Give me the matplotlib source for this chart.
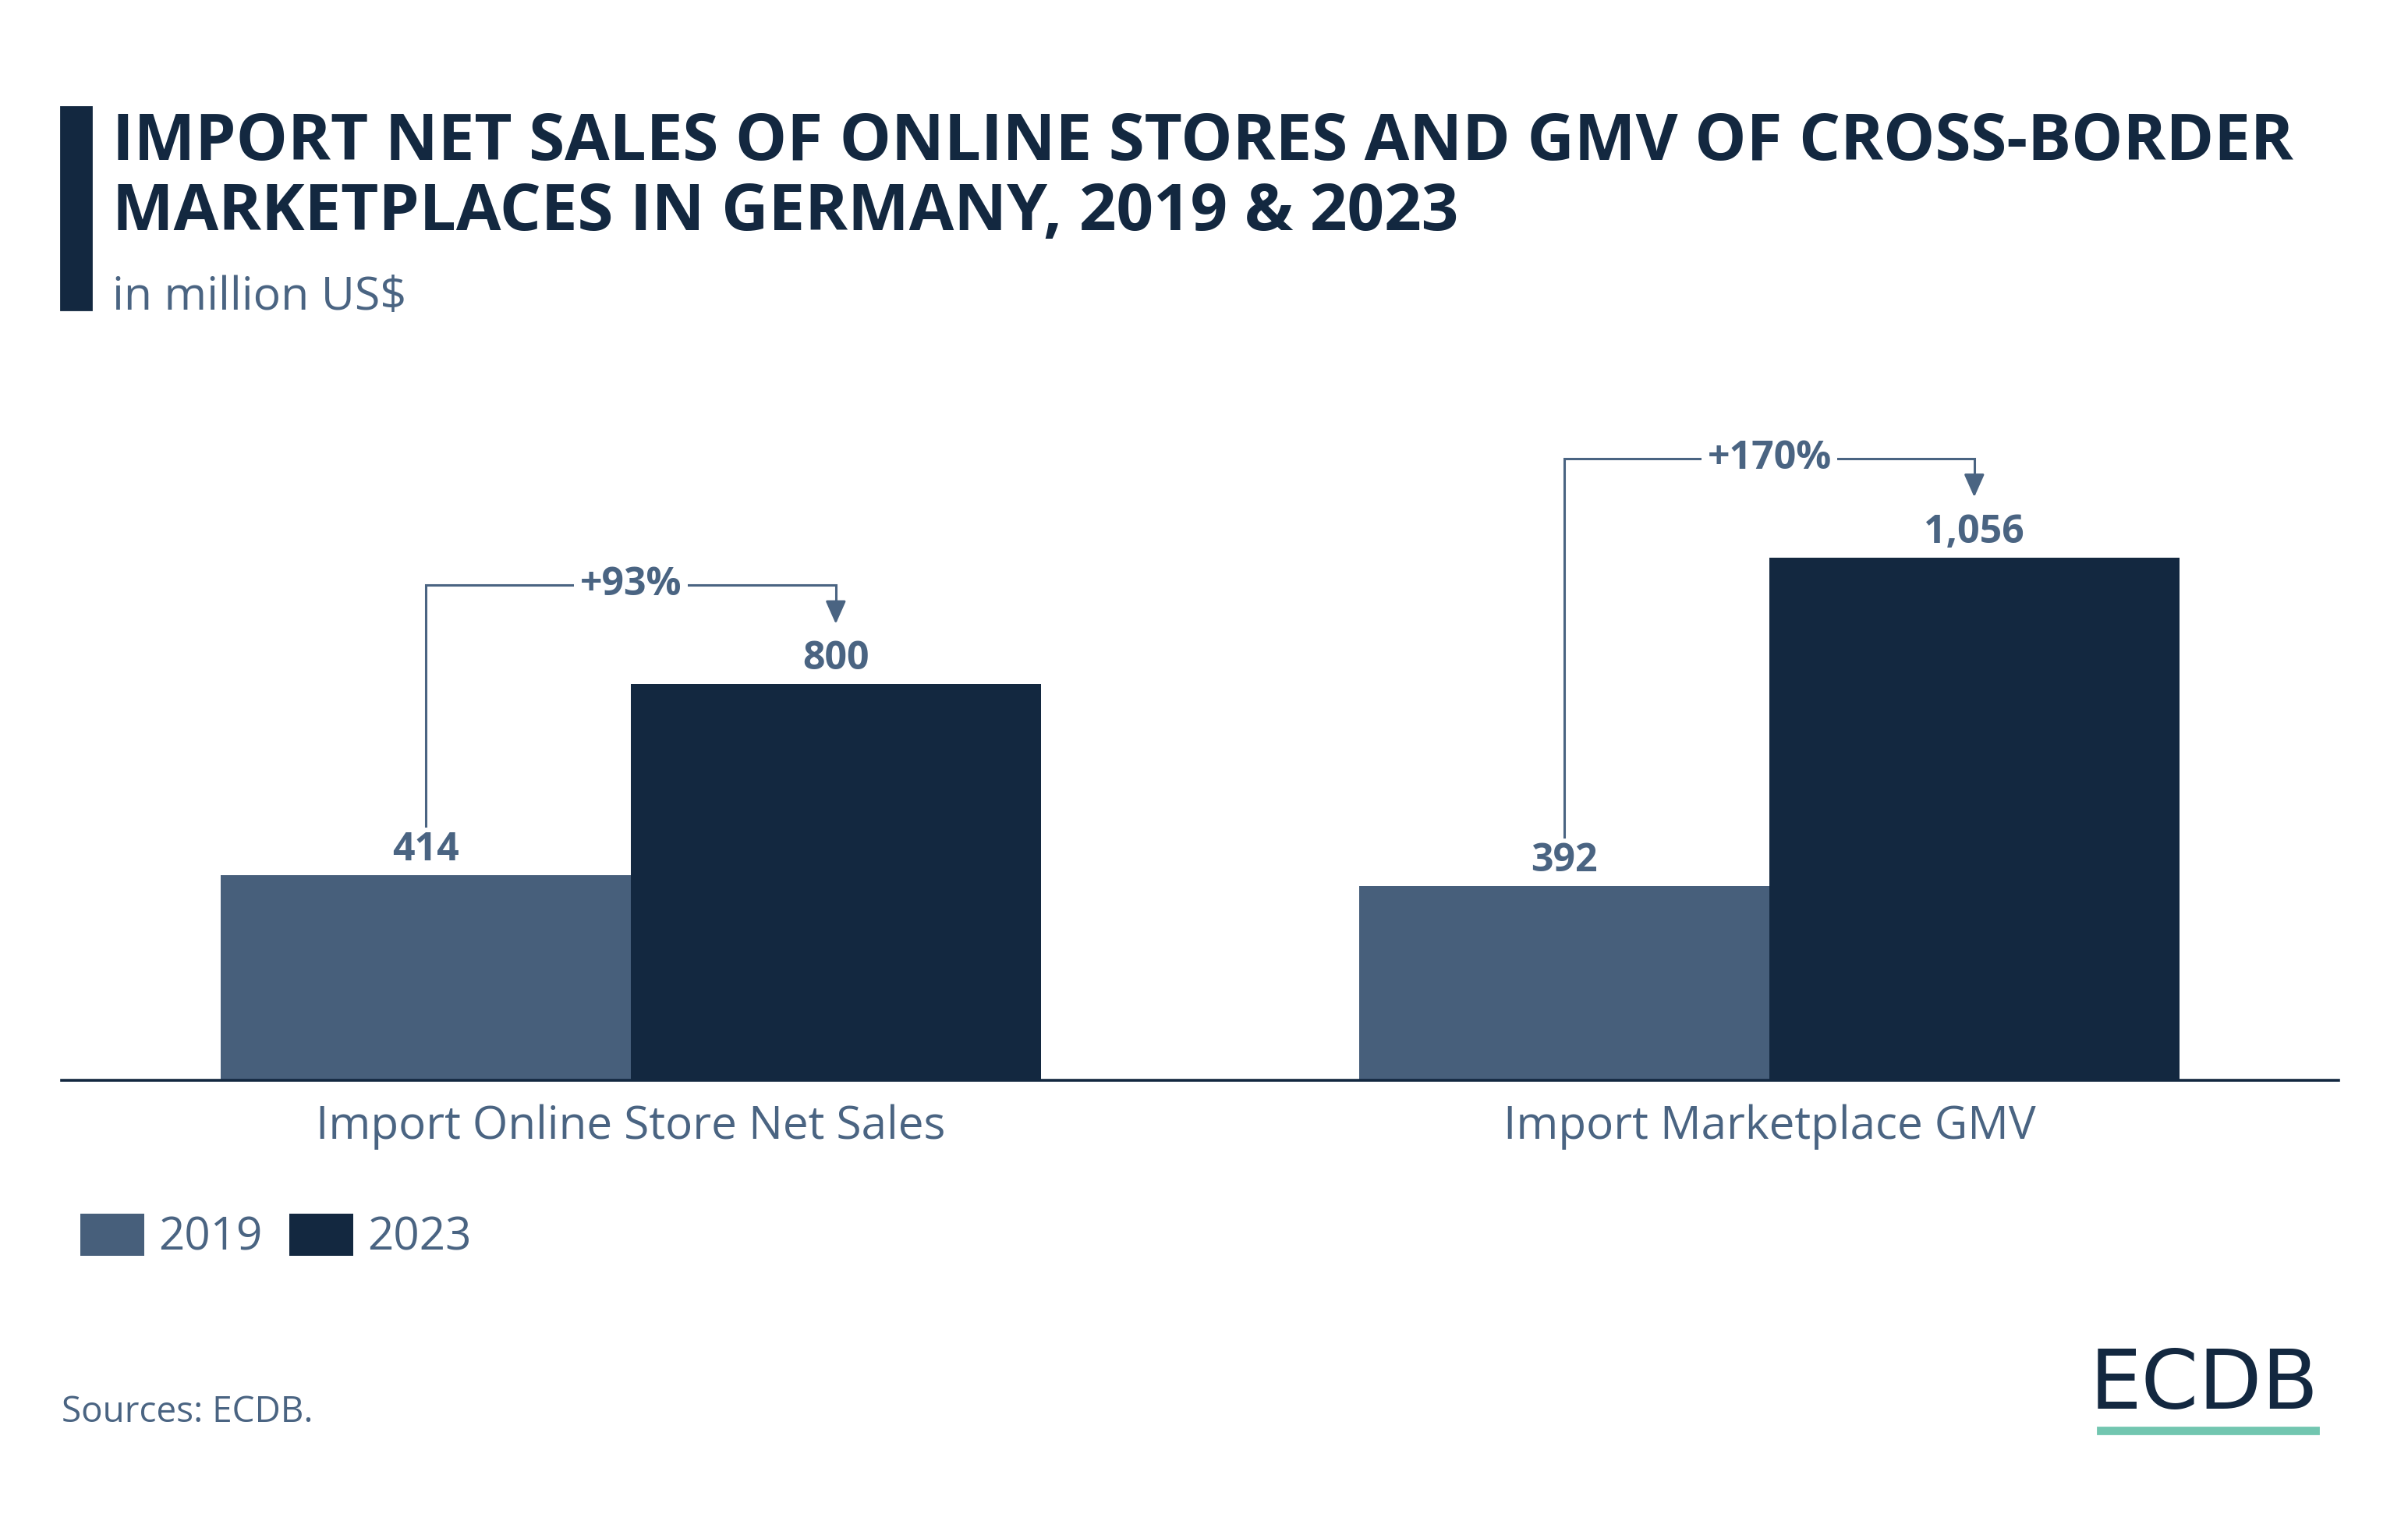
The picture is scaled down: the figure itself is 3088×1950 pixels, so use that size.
import matplotlib.pyplot as plt
from matplotlib.patches import Rectangle
import numpy as np

plt.rcParams['font.family'] = ['Open Sans', 'DejaVu Sans']

categories = ['Import Online Store Net Sales', 'Import Marketplace GMV']
years = ['2019', '2023']
values_2019 = [414, 392]
values_2023 = [800, 1056]
growth_labels = ['+93%', '+170%']

c2019 = '#475f7b'
c2023 = '#132840'
txt = '#4a6482'

fig = plt.figure(figsize=(15.44, 9.75), dpi=200)
ax = fig.add_axes([0.02558, 0.28974, 0.9456, 0.4231])

x = np.arange(len(categories))
w = 0.36
ax.bar(x - w / 2, values_2019, w, color=c2019, label=years[0])
ax.bar(x + w / 2, values_2023, w, color=c2023, label=years[1])

ax.set_xlim(-0.5, 1.5)
ax.set_ylim(0, 1300)
for s in ['top', 'left', 'right']:
    ax.spines[s].set_visible(False)
ax.spines['bottom'].set_color(c2023)
ax.spines['bottom'].set_linewidth(1.3)
ax.set_yticks([])
ax.set_xticks(x)
ax.set_xticklabels(categories, fontsize=21, color=txt)
ax.tick_params(axis='x', length=0, pad=11)

# value labels
for i in range(len(categories)):
    ax.text(x[i] - w / 2, values_2019[i] + 30, f'{values_2019[i]:,}', ha='center', va='baseline',
            fontsize=18, fontweight='bold', color=txt)
    ax.text(x[i] + w / 2, values_2023[i] + 30, f'{values_2023[i]:,}', ha='center', va='baseline',
            fontsize=18, fontweight='bold', color=txt)

# growth connectors
for i in range(len(categories)):
    x0 = x[i] - w / 2
    x1 = x[i] + w / 2
    y_top = values_2023[i] + 200
    y_start = values_2019[i] + 100
    ax.plot([x0, x0, x1, x1], [y_start, y_top, y_top, values_2023[i] + 150],
            color=txt, lw=1.1, solid_joinstyle='miter')
    ax.annotate('', xy=(x1, values_2023[i] + 122), xytext=(x1, values_2023[i] + 160),
                arrowprops=dict(arrowstyle='-|>,head_length=0.9,head_width=0.4', color=txt, lw=1.1,
                                shrinkA=0, shrinkB=0))
    ax.text(x[i], y_top, growth_labels[i], ha='center', va='center', fontsize=18,
            fontweight='bold', color=txt,
            bbox=dict(boxstyle='square,pad=0.15', fc='white', ec='none'))

# legend
leg = fig.legend(loc='upper left', bbox_to_anchor=(0.0333, 0.2023), ncol=2, frameon=False,
                 fontsize=21, handlelength=1.41, handleheight=1.07, handletextpad=0.31,
                 columnspacing=0.59, borderpad=0, borderaxespad=0)
for t in leg.get_texts():
    t.set_color(txt)

# title block
fig.patches.append(Rectangle((0.02526, 0.7964), 0.01263, 0.1333, transform=fig.transFigure,
                             color=c2023, zorder=5))
fig.text(0.0466, 0.8949, 'IMPORT NET SALES OF ONLINE STORES AND GMV OF CROSS-BORDER',
         fontsize=30, fontweight='bold', color=c2023, va='baseline')
fig.text(0.0466, 0.8487, 'MARKETPLACES IN GERMANY, 2019 & 2023',
         fontsize=30, fontweight='bold', color=c2023, va='baseline')
fig.text(0.0466, 0.7964, 'in million US$', fontsize=21.3, color=txt, va='baseline')

fig.text(0.0256, 1 - 1823 / 1950, 'Sources: ECDB.', fontsize=16.5, color=txt, va='baseline')

# logo
fig.text(0.9628, 1 - 1806 / 1950, 'ECDB', fontsize=38, color=c2023, va='baseline', ha='right',
         family='DejaVu Sans')
fig.patches.append(Rectangle((2690 / 3088, 1 - 1838 / 1950), 283 / 3088, 8 / 1950,
                             transform=fig.transFigure, color='#72c6b0'))

fig.savefig('out.png', dpi=200, facecolor='white')
